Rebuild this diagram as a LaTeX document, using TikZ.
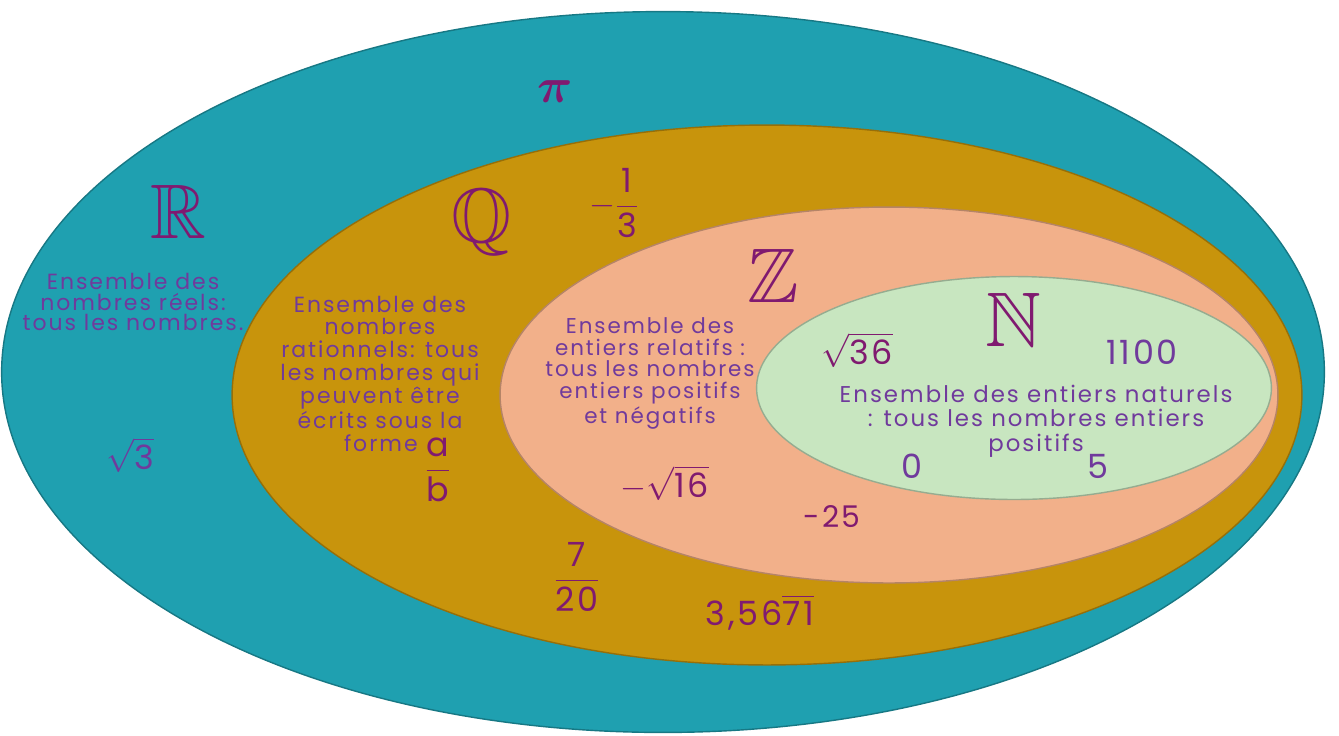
\RequirePackage{fix-cm}
\documentclass[tikz,border=0pt]{standalone}
\usepackage{amsmath,amssymb}
\usepackage{fontspec}
\setmainfont{Poppins}[LetterSpace=9]
\newfontfamily\numfont{Poppins}[LetterSpace=8]
\usetikzlibrary{positioning,shapes.geometric}

\definecolor{realcol}{RGB}{31,160,176}
\definecolor{ratcol}{RGB}{200,148,12}
\definecolor{intcol}{RGB}{242,176,138}
\definecolor{natcol}{RGB}{200,230,192}
\definecolor{desccol}{RGB}{112,58,156}
\definecolor{numcol}{RGB}{128,26,112}

\begin{document}
\begin{tikzpicture}[x=0.02cm,y=-0.02cm]
\tikzset{
  setarea/.style={ellipse,draw=#1!75!black,fill=#1,line width=0.8pt,inner sep=0pt},
  setname/.style={text=numcol,font=\fontsize{44}{46}\selectfont,inner sep=0pt},
  desc/.style={align=center,text=desccol,inner sep=0pt},
  num/.style={text=numcol,font=\numfont\fontsize{19}{21}\selectfont,inner sep=0pt},
}
\useasboundingbox (0,0) rectangle (1339,735);
% nested sets
\node[setarea=realcol,minimum width=26.46cm,minimum height=14.42cm] (reals) at (663,372) {};
\node[setarea=ratcol,minimum width=21.4cm,minimum height=10.8cm] (rats) at (767,395) {};
\node[setarea=intcol,minimum width=15.56cm,minimum height=7.52cm] (ints) at (889,395) {};
\node[setarea=natcol,minimum width=10.3cm,minimum height=4.46cm] (nats) at (1014,388) {};

% R
\node[setname] (rname) at (178,212) {$\mathbb{R}$};
\node[desc,font=\fontsize{12.5}{11.5}\selectfont] (rdesc) at (133,302)
  {Ensemble des\\nombres réels:\\tous les nombres.};
\node[num,text=desccol] (sqthree) at (130,455) {$\sqrt{\text{3}}$};
\node[num,font=\fontsize{28}{30}\selectfont] (pinum) at (555,92) {$\boldsymbol{\pi}$};

% Q
\node[setname] (qname) at (482,222) {$\mathbb{Q}$};
\node[num] (third) at (614,203) {$-\dfrac{\text{1}}{\text{3}}$};
\node[desc,font=\fontsize{12.5}{13}\selectfont] (qdesc) at (380,362)
  {Ensemble des\\nombres\\rationnels: tous\\les nombres qui\\peuvent être\\écrits sous la};
\node[num,font=\numfont\fontsize{19}{21}\selectfont] (abfrac) at (438,470) {$\dfrac{\text{a}}{\text{b}}$};
\node[desc,font=\fontsize{12.5}{13}\selectfont,anchor=base east] (forme) at (418,451) {forme};
\node[num] (sevtw) at (577,577) {$\dfrac{\text{7}}{\text{20}}$};
\node[num] (period) at (760,612) {3,56$\overline{\text{71}}$};

% Z
\node[setname] (zname) at (773,276) {$\mathbb{Z}$};
\node[desc,font=\fontsize{12.2}{12.5}\selectfont] (zdesc) at (650,373)
  {Ensemble des\\entiers relatifs :\\tous les nombres\\entiers positifs\\et négatifs};
\node[num] (msqsix) at (665,483) {$-\sqrt{\text{16}}$};
\node[num,font=\numfont\fontsize{17}{19}\selectfont] (mtwfv) at (832,517) {-25};

% N
\node[setname] (nname) at (1013,320) {$\mathbb{N}$};
\node[num] (sqts) at (857,350) {$\sqrt{\text{36}}$};
\node[num,text=desccol] (eleven) at (1142,352) {1100};
\node[desc,font=\fontsize{13}{14}\selectfont] (ndesc) at (1036,421)
  {Ensemble des entiers naturels\\: tous les nombres entiers\\positifs};
\node[num,text=desccol] (zero) at (912,466) {0};
\node[num,text=desccol] (five) at (1098,466) {5};
\end{tikzpicture}
\end{document}
